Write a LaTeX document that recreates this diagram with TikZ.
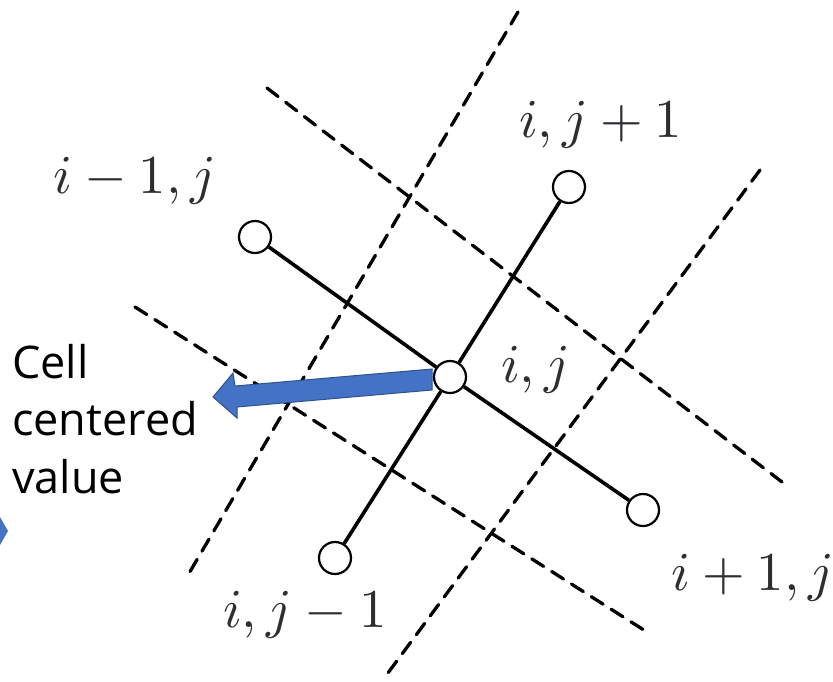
\documentclass[tikz,border=0pt]{standalone}
\usepackage{fontspec}
\newfontfamily\cellfont{Open Sans}
\definecolor{arrowblue}{RGB}{68,114,196}
\definecolor{arrowedge}{RGB}{47,82,143}
\definecolor{labelgray}{RGB}{45,45,50}
\begin{document}
\begin{tikzpicture}[x=1pt,y=-1pt,
  gridline/.style={line width=3.3pt,line cap=round,dash pattern=on 14pt off 9.5pt},
  stencil/.style={line width=3.6pt},
  cellpt/.style={circle,draw,line width=2.2pt,fill=white,minimum size=32pt,inner sep=0pt},
  mlabel/.style={anchor=base west,inner sep=0pt,scale=5.48,text=labelgray},
  celltext/.style={anchor=base west,inner sep=0pt,font=\cellfont\fontsize{45}{54}\selectfont},
  blockarrow/.style={fill=arrowblue,draw=arrowedge,line width=1pt}]
\useasboundingbox (0,0) rectangle (833,681);
% dashed cell faces
\coordinate (a1) at (518,12);  \coordinate (a2) at (188,575);
\coordinate (b1) at (760,170); \coordinate (b2) at (385,677);
\coordinate (c1) at (267,88);  \coordinate (c2) at (782,482);
\coordinate (d1) at (135,307); \coordinate (d2) at (647,632);
\draw[gridline] (a1) -- (a2);
\draw[gridline] (b1) -- (b2);
\draw[gridline] (c1) -- (c2);
\draw[gridline] (d1) -- (d2);
% cell centres
\node[cellpt] (im) at (255,237) {};
\node[cellpt] (jp) at (569,187) {};
\node[cellpt] (ctr) at (450,377) {};
\node[cellpt] (ip) at (643,510) {};
\node[cellpt] (jm) at (335,558) {};
\draw[stencil] (im) -- (ctr) -- (ip);
\draw[stencil] (jp) -- (ctr) -- (jm);
% labels
\node[mlabel] (lim) at (52,193) {$i-1,j$};
\node[mlabel] (ljp) at (518,137) {$i,j+1$};
\node[mlabel] (lc) at (500,382) {$i,j$};
\node[mlabel] (lip) at (670,590) {$i+1,j$};
\node[mlabel] (ljm) at (222,627) {$i,j-1$};
% block arrow
\draw[blockarrow] (432,369) -- (235,386) -- (233,373) -- (213,397) -- (237,418) -- (237,407) -- (432,390) -- cycle;
\fill[arrowblue] (0,517) -- (8,531) -- (0,545) -- cycle;
% text
\node[celltext] (t1) at (12,378) {Cell};
\node[celltext] (t2) at (12,435) {centered};
\node[celltext] (t3) at (12,493) {value};
\end{tikzpicture}
\end{document}
